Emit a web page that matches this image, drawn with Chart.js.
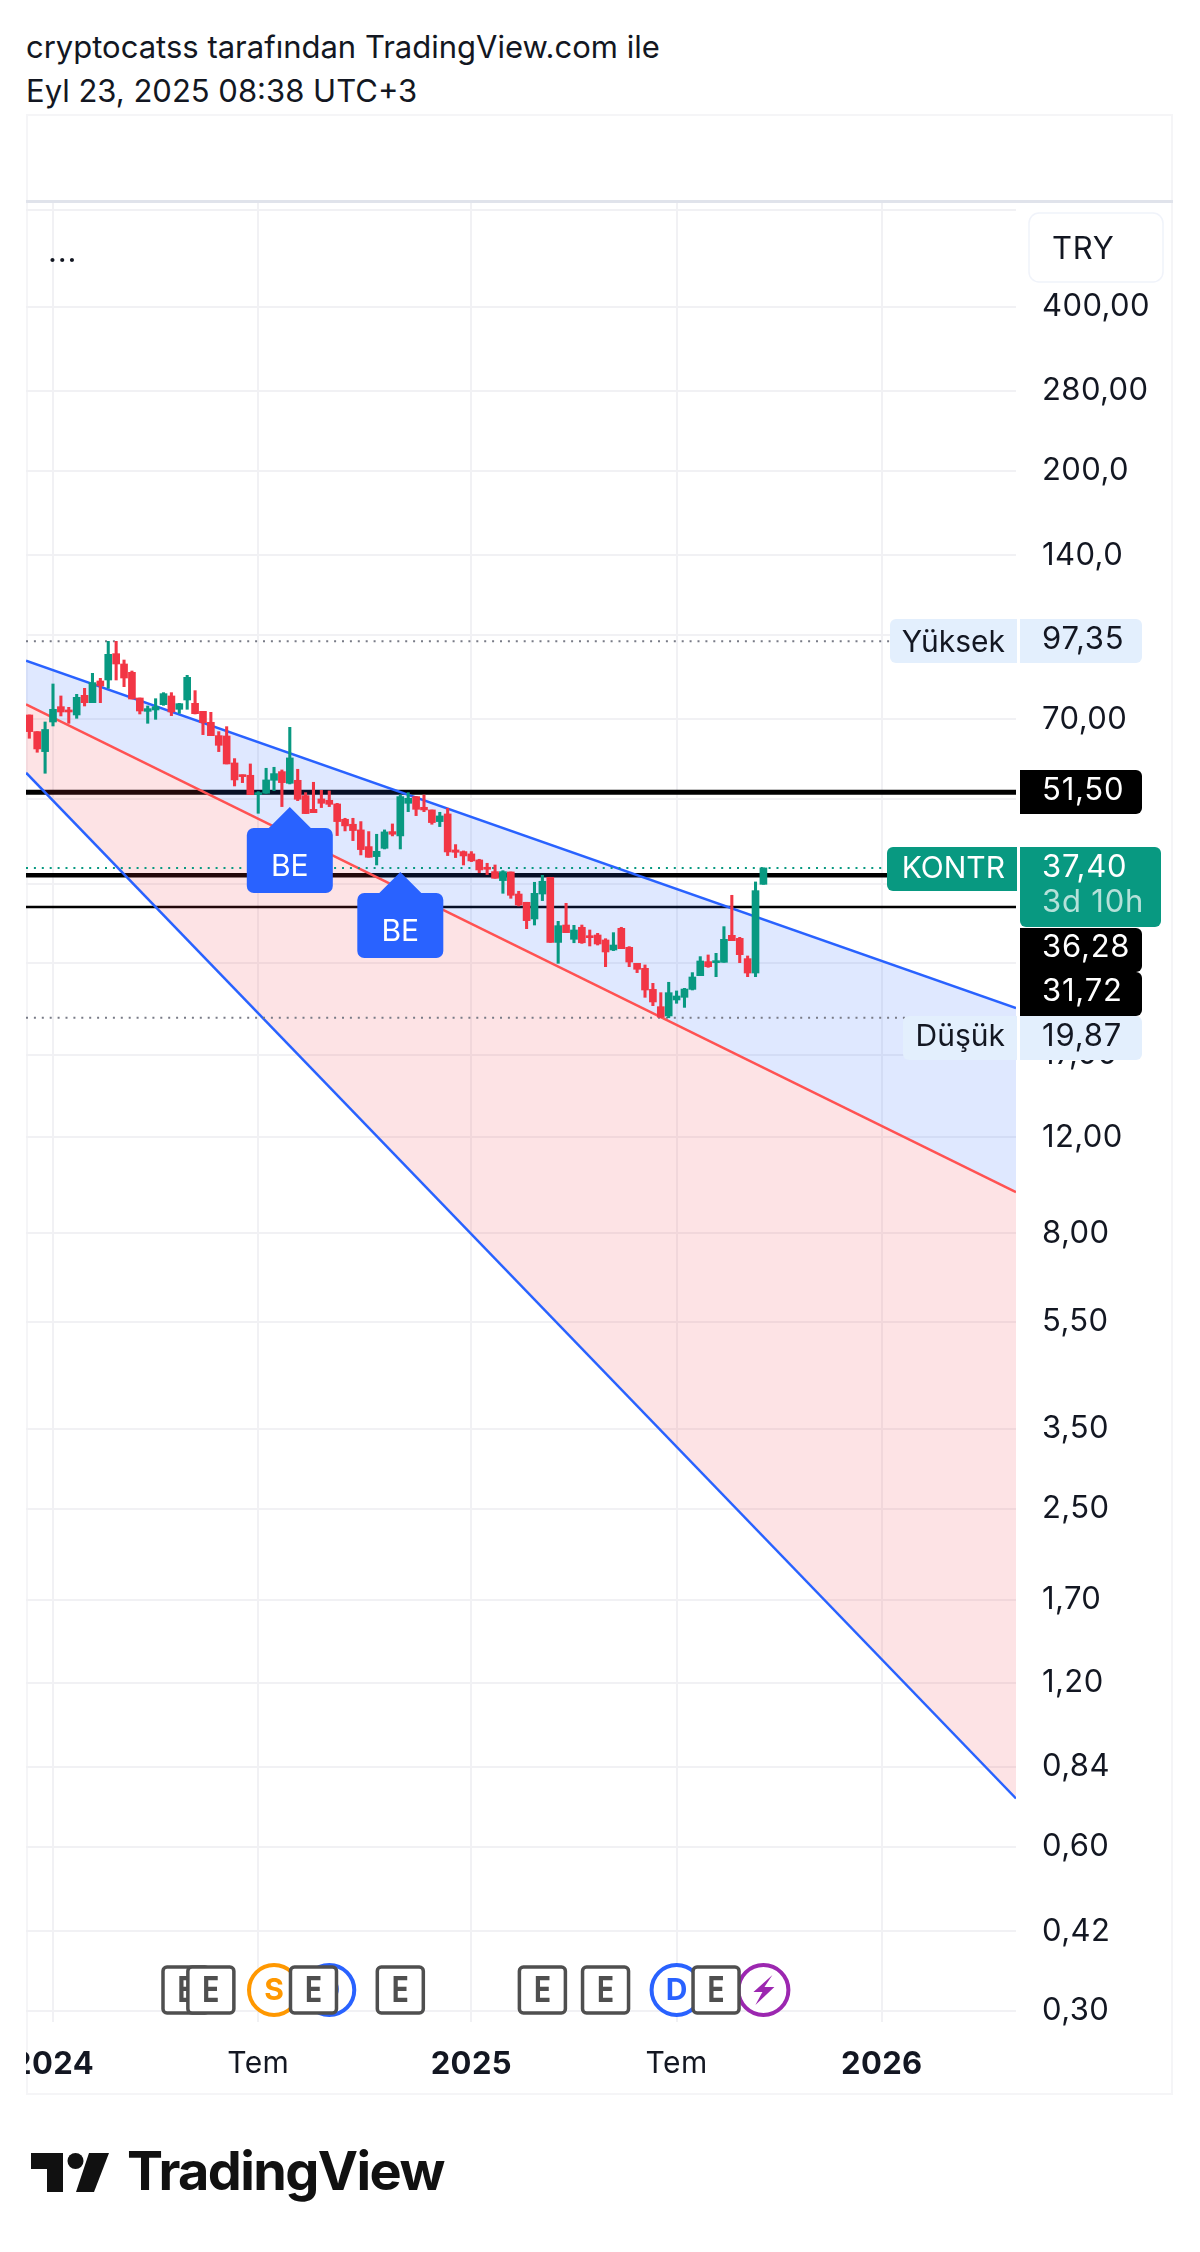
<!DOCTYPE html>
<html>
<head>
<meta charset="utf-8">
<title>KONTR</title>
<script src="https://cdn.jsdelivr.net/npm/chart.js@4"></script>
<style>
    body { margin: 0; background: #fff; width: 1200px; height: 2252px; position: relative; overflow: hidden; font-family: Inter, sans-serif; color: #131722; }
    .head { position: absolute; left: 26px; font-size: 31px; line-height: 40px; white-space: nowrap; }
    #frame { position: absolute; left: 26px; top: 114px; width: 1147px; height: 1981px; box-shadow: inset 0 0 0 2px #f5f5f7; }
    #band { position: absolute; left: 0; top: 86px; width: 1147px; height: 3px; background: #e0e3eb; }
    #chart { position: absolute; left: 0; top: 0; }
    #logo { position: absolute; left: 0; top: 0; }
    #brand { position: absolute; left: 127px; top: 2136px; font-size: 54px; line-height: 70px; font-weight: 700; letter-spacing: -1.6px; color: #111; }
</style>
</head>
<body>
<div class="head" style="top:27px">cryptocatss tarafından TradingView.com ile</div>
<div class="head" style="top:71px">Eyl 23, 2025 08:38 UTC+3</div>
<div id="frame">
    <canvas id="chart" width="1147" height="1981"></canvas>
    <div id="band"></div>
</div>
<svg id="logo" width="200" height="2252">
    <path fill="#111" d="M31 2153H63V2192H47V2169H31Z"/>
    <circle fill="#111" cx="75.5" cy="2161" r="8"/>
    <path fill="#111" d="M89 2153H109L94 2192H76Z"/>
</svg>
<div id="brand">TradingView</div>
<script>
// weekly bars, 0 = first week of 2024
const weeks = [-3,-2,-1,0,1,2,3,4,5,6,7,8,9,10,11,12,13,14,15,16,17,18,19,20,21,22,23,24,25,26,27,28,29,30,31,32,33,34,35,36,37,38,39,40,41,42,43,44,45,46,47,48,49,50,51,52,53,54,55,56,57,58,59,60,61,62,63,64,65,66,67,68,69,70,71,72,73,74,75,76,77,78,79,80,81,82,83,84,85,86,87,88,89,90];
const opens = [71.33,66.49,61.11,69.25,73.88,72.85,71.33,77.50,75.14,82.33,82.68,92.40,88.46,85.40,76.63,72.43,72.85,74.51,77.29,73.06,75.99,74.93,72.43,69.16,65.37,65.28,58.25,55.38,55.30,50.96,51.25,54.14,56.16,53.46,54.14,50.75,47.90,50.04,49.76,48.99,45.93,44.97,43.91,40.92,39.23,40.63,43.60,42.81,49.13,50.54,48.31,47.77,45.48,46.97,40.35,40.07,39.68,38.68,37.50,36.82,35.45,36.77,33.50,32.35,30.15,33.50,35.95,27.31,29.39,27.67,29.11,28.06,28.18,27.59,26.45,28.98,26.75,25.00,24.48,22.40,20.82,20.02,21.42,21.66,22.40,23.73,25.18,25.07,25.11,28.14,27.78,25.50,24.00,34.90];
const highs = [71.33,66.49,69.25,81.30,77.29,73.67,77.83,79.83,85.04,83.26,97.35,97.35,89.96,85.88,76.63,74.09,76.41,78.38,78.38,74.93,84.32,79.05,72.43,72.13,66.49,67.90,59.33,55.38,58.01,51.61,56.96,57.20,56.56,67.71,56.72,51.39,53.69,51.90,51.76,49.13,46.12,46.12,45.48,43.60,43.11,43.91,45.03,50.90,51.39,50.54,50.89,47.77,47.30,48.11,41.27,40.18,40.07,38.79,38.14,37.87,36.97,36.77,33.89,32.35,35.20,36.25,35.95,29.85,32.21,29.35,29.39,28.78,28.38,27.74,28.46,29.11,26.83,25.00,24.83,22.98,22.09,23.08,22.25,22.50,24.04,25.72,25.90,26.08,29.19,33.32,27.90,25.79,35.25,37.40];
const lows = [64.65,60.94,55.77,68.09,71.03,68.87,70.33,74.09,75.14,75.14,79.83,82.68,80.39,76.31,71.63,68.87,70.03,74.30,71.13,71.83,73.06,71.63,65.65,65.37,61.11,58.01,52.86,53.61,50.96,47.10,51.25,51.83,48.45,53.31,49.69,47.04,47.23,48.25,48.45,42.87,43.72,41.97,39.51,39.12,37.87,40.52,42.81,40.52,47.43,46.64,47.43,44.97,44.53,39.40,39.07,37.87,38.41,36.66,36.36,35.80,33.60,32.90,31.85,28.94,29.39,32.58,27.31,25.00,28.46,27.27,27.20,26.90,27.01,24.65,26.38,26.60,24.65,24.04,21.66,20.91,19.91,19.87,21.12,20.76,22.34,23.73,24.58,23.63,25.11,27.51,25.07,23.63,23.63,34.90];
const closes = [66.49,61.80,67.09,73.06,72.24,72.24,76.85,75.14,81.76,80.62,92.14,88.46,83.38,76.31,72.54,73.26,73.88,78.05,72.24,74.82,83.62,71.73,69.06,65.37,62.76,58.01,54.22,54.99,50.96,51.39,54.22,55.69,53.61,59.50,49.97,47.04,47.23,49.13,48.92,45.48,44.66,43.79,40.41,39.12,40.12,43.54,43.11,50.54,50.18,47.90,47.77,45.29,46.58,40.01,39.95,39.34,38.52,37.08,37.19,35.80,36.82,33.32,31.98,29.94,33.60,35.35,27.31,29.31,28.46,28.78,27.27,27.86,27.13,26.23,27.01,26.60,25.14,24.38,22.34,21.24,19.91,22.09,21.78,22.43,23.60,25.25,24.65,25.21,27.67,27.51,25.93,24.00,33.98,37.40];

// channel lines, values at the left and right edge of the pane
const channelX = [-3.42, 122];
const upperLine = [89.7, 20.7];
const middleLine = [74.6, 9.52];
const lowerLine = [55.9, 0.736];

// horizontal levels
const levelThick1 = 51.5;
const levelThick2 = 36.28;
const levelThin = 31.72;
const highPrice = 97.35;
const lowPrice = 19.87;
const lastPrice = 37.4;

const yTicks = [600,400,280,200,140,100,70,50,35,25,17,12,8,5.5,3.5,2.5,1.7,1.2,0.84,0.6,0.42,0.3];
const yTickLabels = ["","400,00","280,00","200,0","140,0","","70,00","","","","17,00","12,00","8,00","5,50","3,50","2,50","1,70","1,20","0,84","0,60","0,42","0,30"];
const xTicks = [0,26,53,79,105];
const xTickLabels = ["2024","Tem","2025","Tem","2026"];

const eventBars = [16.85,20,28,33,35,44,62,70,79,84,90];
const eventTypes = ["E","E","S","E","D","E","E","E","D","E","B"];
const beBars = [30,44];

const fontName = "Inter, sans-serif";
const textColor = "#131722";
const upColor = "#089981";
const downColor = "#f23645";

function hLine(value, color, width, dash, order) {
    return {
        type: "line",
        data: channelX.map(function (x) { return { x: x, y: value }; }),
        borderColor: color, borderWidth: width, borderDash: dash,
        pointRadius: 0, fill: false, order: order
    };
}

function sLine(values, color, fill, order) {
    return {
        type: "line",
        data: channelX.map(function (x, i) { return { x: x, y: values[i] }; }),
        borderColor: color, borderWidth: 2.5,
        pointRadius: 0, fill: fill, order: order
    };
}

const barColors = closes.map(function (c, i) { return c >= opens[i] ? upColor : downColor; });

const datasets = [
    hLine(levelThick1, "#000", 5, [], 20),
    hLine(levelThick2, "#000", 4.5, [], 20),
    hLine(levelThin, "#000", 2.5, [], 20),
    // filled channels, drawn over the black levels like the original
    sLine(upperLine, "#2962ff", { target: 4, above: "rgba(41,98,255,0.15)", below: "rgba(41,98,255,0.15)" }, 11),
    sLine(middleLine, "#ff5252", { target: 5, above: "rgba(242,54,69,0.14)", below: "rgba(242,54,69,0.14)" }, 10),
    sLine(lowerLine, "#2962ff", false, 9),
    hLine(highPrice, "#787b86", 2, [2, 5.9], 8),
    hLine(lowPrice, "#787b86", 2, [2, 5.9], 8),
    hLine(lastPrice, upColor, 2, [2, 5.9], 8),
    {
        label: "wick",
        data: weeks.map(function (w, i) { return { x: w, y: [lows[i], highs[i]] }; }),
        backgroundColor: barColors, barThickness: 2.4, order: 2
    },
    {
        label: "body",
        data: weeks.map(function (w, i) { return { x: w, y: [opens[i], closes[i]] }; }),
        backgroundColor: barColors, barThickness: 7, minBarLength: 2, order: 1
    }
];

function roundBox(ctx, x, y, w, h, r, color) {
    ctx.beginPath();
    ctx.roundRect(x - 26, y - 114, w, h, r);
    ctx.fillStyle = color;
    ctx.fill();
}

function boxText(ctx, text, x, y, color, align) {
    ctx.font = "31px " + fontName;
    ctx.letterSpacing = "0.8px";
    ctx.fillStyle = color;
    ctx.textAlign = align || "left";
    ctx.textBaseline = "middle";
    ctx.fillText(text, x - 26, y - 114);
}

function tagName(ctx, text, y, color) {
    ctx.font = "30px " + fontName;
    ctx.letterSpacing = "0px";
    ctx.fillStyle = color;
    ctx.textAlign = "right";
    ctx.textBaseline = "middle";
    ctx.fillText(text, 1005 - 26, y - 114);
}

// narrow bold letter of the earnings boxes
function boxLetter(ctx, px, py) {
    ctx.save();
    ctx.translate(px, py);
    ctx.scale(0.8, 1);
    ctx.font = "700 35px " + fontName;
    ctx.fillText("E", 0, 1);
    ctx.restore();
}

const overlays = {
    id: "overlays",
    beforeDraw: function (chart) {
        chart.ctx.letterSpacing = "0.4px";
    },
    afterDatasetsDraw: function (chart) {
        const ctx = chart.ctx;
        const xs = chart.scales.x;
        const ys = chart.scales.y;
        ctx.save();
        ctx.letterSpacing = "0px";

        // BE flags under the bars
        beBars.forEach(function (bar) {
            const i = weeks.indexOf(bar);
            const px = xs.getPixelForValue(bar);
            const tip = ys.getPixelForValue(lows[i]) + 23;
            ctx.beginPath();
            ctx.roundRect(px - 43, tip + 21, 86, 65, 7);
            ctx.moveTo(px - 22, tip + 22);
            ctx.lineTo(px, tip);
            ctx.lineTo(px + 22, tip + 22);
            ctx.closePath();
            ctx.fillStyle = "#2962ff";
            ctx.fill();
            ctx.font = "30px " + fontName;
            ctx.fillStyle = "#fff";
            ctx.textAlign = "center";
            ctx.textBaseline = "middle";
            ctx.fillText("BE", px, tip + 60);
        });

        // event badges, circles first, E boxes over them
        const cy = 1990 - 114;
        const circleColors = { S: "#ff9800", D: "#2962ff", B: "#9c27b0" };
        ctx.textAlign = "center";
        ctx.textBaseline = "middle";
        eventBars.forEach(function (bar, i) {
            const t = eventTypes[i];
            if (t === "E") return;
            const px = xs.getPixelForValue(bar);
            ctx.beginPath();
            ctx.arc(px, cy, 25, 0, Math.PI * 2);
            ctx.fillStyle = "#fff";
            ctx.fill();
            ctx.lineWidth = 4;
            ctx.strokeStyle = circleColors[t];
            ctx.stroke();
            ctx.fillStyle = circleColors[t];
            if (t === "B") {
                ctx.beginPath();
                ctx.moveTo(px + 9, cy - 15);
                ctx.lineTo(px - 10, cy + 2);
                ctx.lineTo(px - 1, cy + 2);
                ctx.lineTo(px - 8, cy + 15);
                ctx.lineTo(px + 11, cy - 3);
                ctx.lineTo(px + 1, cy - 3);
                ctx.closePath();
                ctx.fill();
            } else {
                ctx.font = "700 30px " + fontName;
                ctx.fillText(t, px, cy + 1);
            }
        });
        eventBars.forEach(function (bar, i) {
            if (eventTypes[i] !== "E") return;
            const px = xs.getPixelForValue(bar);
            ctx.beginPath();
            ctx.roundRect(px - 23, cy - 23, 46, 46, 4);
            ctx.fillStyle = "#fff";
            ctx.fill();
            ctx.lineWidth = 3.5;
            ctx.strokeStyle = "#4f4f4f";
            ctx.stroke();
            ctx.fillStyle = "#4f4f4f";
            boxLetter(ctx, px, cy);
        });

        // price tags on the axis
        const pale = "#e3effd";
        roundBox(ctx, 1020, 619, 122, 44, [0, 6, 6, 0], pale);
        roundBox(ctx, 890, 619, 127, 44, [6, 0, 0, 6], pale);
        tagName(ctx, "Yüksek", 643, textColor);
        boxText(ctx, "97,35", 1042, 640, textColor);

        roundBox(ctx, 1020, 770, 122, 44, [0, 6, 6, 0], "#000");
        boxText(ctx, "51,50", 1042, 791, "#fff");

        roundBox(ctx, 1020, 928, 122, 44, [0, 6, 6, 0], "#000");
        boxText(ctx, "36,28", 1042, 948, "#fff");
        roundBox(ctx, 1020, 972, 122, 44, [0, 6, 6, 0], "#000");
        boxText(ctx, "31,72", 1042, 992, "#fff");

        roundBox(ctx, 887, 847, 130, 44, [6, 0, 0, 6], upColor);
        tagName(ctx, "KONTR", 869, "#fff");
        roundBox(ctx, 1020, 847, 141, 80, [0, 6, 6, 6], upColor);
        boxText(ctx, "37,40", 1042, 868, "#fff");
        boxText(ctx, "3d 10h", 1042, 903, "rgba(255,255,255,0.7)");

        roundBox(ctx, 1020, 1016, 122, 44, [0, 6, 6, 0], pale);
        roundBox(ctx, 903, 1016, 114, 44, [6, 0, 0, 6], pale);
        tagName(ctx, "Düşük", 1037, textColor);
        boxText(ctx, "19,87", 1042, 1037, textColor);

        // symbol box and the collapsed legend
        ctx.beginPath();
        ctx.roundRect(1029 - 26, 213 - 114, 134, 69, 10);
        ctx.fillStyle = "#fff";
        ctx.fill();
        ctx.lineWidth = 1.5;
        ctx.strokeStyle = "#f0f3fa";
        ctx.stroke();
        boxText(ctx, "TRY", 1052, 250, textColor);
        boxText(ctx, "...", 48, 253, textColor);

        ctx.restore();
    }
};

new Chart(document.getElementById("chart").getContext("2d"), {
    type: "bar",
    data: { datasets: datasets },
    plugins: [overlays],
    options: {
        responsive: false,
        animation: false,
        layout: { autoPadding: false, padding: { top: 87, left: 0, right: 0, bottom: 0 } },
        datasets: { bar: { grouped: false } },
        plugins: { legend: { display: false }, tooltip: { enabled: false } },
        scales: {
            x: {
                type: "linear",
                min: channelX[0],
                max: channelX[1],
                bounds: "data",
                offset: false,
                grid: { color: "#f1f1f4", lineWidth: 2, drawTicks: false, offset: false },
                border: { display: false },
                afterBuildTicks: function (scale) {
                    scale.ticks = xTicks.map(function (v) { return { value: v }; });
                },
                afterFit: function (scale) {
                    scale.height = 73;
                    scale.paddingLeft = 0;
                    scale.paddingRight = 0;
                },
                ticks: {
                    autoSkip: false,
                    maxRotation: 0,
                    padding: 24,
                    color: textColor,
                    font: function (c) {
                        const bold = c.tick && xTickLabels[xTicks.indexOf(c.tick.value)] !== "Tem";
                        return { family: fontName, size: bold ? 31 : 30, weight: bold ? 700 : 400 };
                    },
                    callback: function (v) { return xTickLabels[xTicks.indexOf(v)]; }
                }
            },
            y: {
                type: "logarithmic",
                position: "right",
                min: 0.2865,
                max: 624.5,
                bounds: "data",
                grid: { color: "#f1f1f4", lineWidth: 2, drawTicks: false },
                border: { display: false },
                afterBuildTicks: function (scale) {
                    scale.ticks = yTicks.map(function (v) { return { value: v }; });
                },
                afterFit: function (scale) {
                    scale.width = 157;
                    scale.paddingTop = 0;
                    scale.paddingBottom = 0;
                },
                ticks: {
                    autoSkip: false,
                    padding: 26,
                    crossAlign: "near",
                    color: textColor,
                    font: { family: fontName, size: 31 },
                    callback: function (v) { return yTickLabels[yTicks.indexOf(v)]; }
                }
            }
        }
    }
});
</script>
</body>
</html>
